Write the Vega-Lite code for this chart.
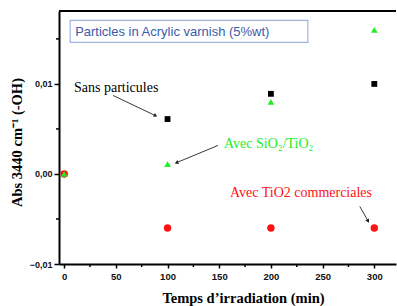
{
  "$schema": "https://vega.github.io/schema/vega-lite/v6.json",
  "width": 337,
  "height": 253,
  "autosize": {"type": "none"},
  "padding": {"left": 59, "top": 11, "right": 1, "bottom": 42},
  "background": "white",
  "config": {"view": {"stroke": null}},
  "datasets": {
    "points": [
      {"serie": "Sans particules", "t": 0, "abs": 0.0},
      {"serie": "Sans particules", "t": 100, "abs": 0.0061},
      {"serie": "Sans particules", "t": 200, "abs": 0.0089},
      {"serie": "Sans particules", "t": 300, "abs": 0.0100},
      {"serie": "Avec TiO2 commerciales", "t": 0, "abs": 0.0},
      {"serie": "Avec TiO2 commerciales", "t": 100, "abs": -0.0060},
      {"serie": "Avec TiO2 commerciales", "t": 200, "abs": -0.0060},
      {"serie": "Avec TiO2 commerciales", "t": 300, "abs": -0.0060},
      {"serie": "Avec SiO2/TiO2", "t": 0, "abs": 0.0},
      {"serie": "Avec SiO2/TiO2", "t": 100, "abs": 0.0011},
      {"serie": "Avec SiO2/TiO2", "t": 200, "abs": 0.0080},
      {"serie": "Avec SiO2/TiO2", "t": 300, "abs": 0.0160}
    ],
    "labels": [
      {"label": "Sans particules", "serie": "Sans particules", "t": 9.5, "abs": 0.00906},
      {"label": "Avec SiO₂/TiO₂", "serie": "Avec SiO2/TiO2", "t": 154.6, "abs": 0.00283},
      {"label": "Avec TiO2 commerciales", "serie": "Avec TiO2 commerciales", "t": 160.4, "abs": -0.00261}
    ],
    "arrows": [
      {"t": 47.3, "abs": 0.00872, "t2": 87.9, "abs2": 0.0065, "angle": 115.5},
      {"t": 148.8, "abs": 0.00317, "t2": 109.2, "abs2": 0.00128, "angle": 247.5},
      {"t": 286, "abs": -0.00361, "t2": 293.7, "abs2": -0.00517, "angle": 150.3}
    ],
    "box": [
      {"t": 5.8, "abs": 0.01706, "t2": 235.7, "abs2": 0.01461, "label": "Particles in Acrylic varnish (5%wt)", "tx": 10.6, "ty": 0.01528}
    ]
  },
  "layer": [
    {
      "data": {"name": "box"},
      "mark": {"type": "rect", "fill": "white", "stroke": "#9DB5DC", "strokeWidth": 1.2},
      "encoding": {
        "x": {"field": "t", "type": "quantitative", "scale": {"domain": [-5, 321], "nice": false, "zero": false},
          "axis": {"orient": "bottom", "title": "Temps d’irradiation (min)", "values": [0, 50, 100, 150, 200, 250, 300],
            "grid": false, "domainColor": "black", "domainWidth": 2, "tickColor": "black", "tickWidth": 1.5, "tickSize": 4,
            "labelFont": "Liberation Sans", "labelFontWeight": "bold", "labelFontSize": 9.5, "labelColor": "#111", "labelPadding": 3,
            "titleFont": "Liberation Serif", "titleFontWeight": "bold", "titleFontSize": 14.5, "titleColor": "black",
            "titleX": 184, "titleY": 38, "titleBaseline": "alphabetic", "titleAnchor": "middle"}},
        "x2": {"field": "t2"},
        "y": {"field": "abs", "type": "quantitative", "scale": {"domain": [-0.01, 0.0181], "nice": false, "zero": false},
          "axis": {"orient": "left", "title": "Abs 3440 cm⁻¹ (-OH)", "values": [-0.01, 0, 0.01],
            "labelExpr": "replace(format(datum.value, '.2f'), '.', ',')",
            "grid": false, "domainColor": "black", "domainWidth": 2, "tickColor": "black", "tickWidth": 1.5, "tickSize": 5,
            "labelFont": "Liberation Sans", "labelFontWeight": "bold", "labelFontSize": 9, "labelColor": "#111", "labelPadding": 2,
            "titleFont": "Liberation Serif", "titleFontWeight": "bold", "titleFontSize": 14.5, "titleColor": "black",
            "titleX": -42, "titleY": 131, "titleAngle": -90, "titleBaseline": "middle", "titleAnchor": "middle"}},
        "y2": {"field": "abs2"}
      }
    },
    {
      "data": {"name": "box"},
      "mark": {"type": "text", "align": "left", "baseline": "alphabetic", "font": "Liberation Sans", "fontSize": 13, "color": "#3A5BAA"},
      "encoding": {
        "x": {"field": "tx", "type": "quantitative"},
        "y": {"field": "ty", "type": "quantitative"},
        "text": {"field": "label"}
      }
    },
    {
      "data": {"values": [{"t": 0}]},
      "mark": {"type": "rule", "color": "black", "strokeWidth": 2},
      "encoding": {
        "y": {"datum": 0.0181, "type": "quantitative"}
      }
    },
    {
      "data": {"values": [{"v": -0.005}, {"v": 0.005}, {"v": 0.015}]},
      "mark": {"type": "tick", "orient": "horizontal", "color": "black", "thickness": 1.5, "size": 3, "xOffset": -1.5, "opacity": 1},
      "encoding": {
        "y": {"field": "v", "type": "quantitative"},
        "x": {"datum": -5, "type": "quantitative"}
      }
    },
    {
      "data": {"values": [{"v": 25}, {"v": 75}, {"v": 125}, {"v": 175}, {"v": 225}, {"v": 275}]},
      "mark": {"type": "tick", "orient": "vertical", "color": "black", "thickness": 1.5, "size": 3, "yOffset": 1.5, "opacity": 1},
      "encoding": {
        "x": {"field": "v", "type": "quantitative"},
        "y": {"datum": -0.01, "type": "quantitative"}
      }
    },
    {
      "data": {"name": "points"},
      "mark": {"type": "point", "filled": true, "opacity": 1},
      "encoding": {
        "x": {"field": "t", "type": "quantitative"},
        "y": {"field": "abs", "type": "quantitative"},
        "color": {"field": "serie", "type": "nominal", "legend": null,
          "scale": {"domain": ["Sans particules", "Avec SiO2/TiO2", "Avec TiO2 commerciales"], "range": ["#000000", "#22EE22", "#FF1111"]}},
        "shape": {"field": "serie", "type": "nominal", "legend": null,
          "scale": {"domain": ["Sans particules", "Avec SiO2/TiO2", "Avec TiO2 commerciales"], "range": ["square", "triangle-up", "circle"]}},
        "size": {"field": "serie", "type": "nominal", "legend": null,
          "scale": {"domain": ["Sans particules", "Avec SiO2/TiO2", "Avec TiO2 commerciales"], "range": [34, 55, 28]}}
      }
    },
    {
      "data": {"name": "arrows"},
      "mark": {"type": "rule", "color": "#222", "strokeWidth": 0.9},
      "encoding": {
        "x": {"field": "t", "type": "quantitative"},
        "y": {"field": "abs", "type": "quantitative"},
        "x2": {"field": "t2"},
        "y2": {"field": "abs2"}
      }
    },
    {
      "data": {"name": "arrows"},
      "mark": {"type": "point", "shape": "triangle", "filled": true, "color": "#222", "size": 18, "opacity": 1},
      "encoding": {
        "x": {"field": "t2", "type": "quantitative"},
        "y": {"field": "abs2", "type": "quantitative"},
        "angle": {"field": "angle", "type": "quantitative", "scale": {"domain": [0, 360], "range": [0, 360]}}
      }
    },
    {
      "data": {"name": "labels"},
      "mark": {"type": "text", "align": "left", "baseline": "alphabetic", "font": "Liberation Serif", "fontSize": 14},
      "encoding": {
        "x": {"field": "t", "type": "quantitative"},
        "y": {"field": "abs", "type": "quantitative"},
        "text": {"field": "label"},
        "color": {"field": "serie", "type": "nominal", "legend": null,
          "scale": {"domain": ["Sans particules", "Avec SiO2/TiO2", "Avec TiO2 commerciales"], "range": ["#000000", "#22EE22", "#FF1111"]}}
      }
    }
  ]
}
